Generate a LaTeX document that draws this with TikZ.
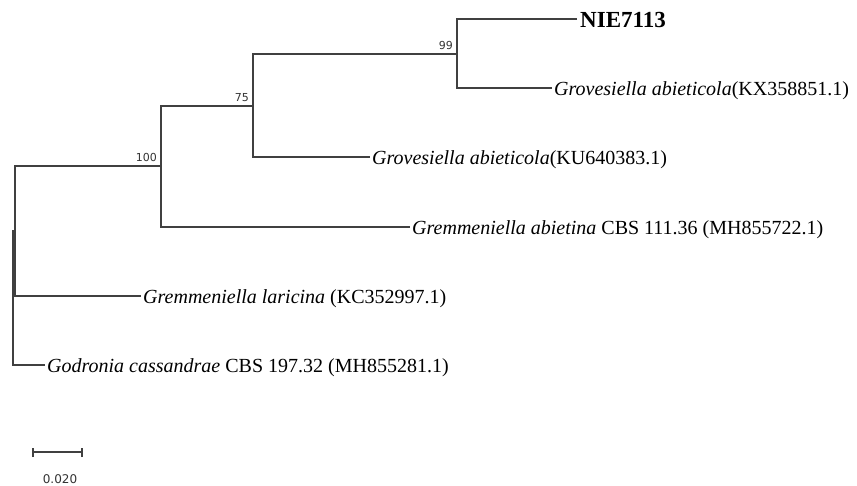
\documentclass[tikz,border=0pt]{standalone}
\usepackage{fontspec}
\setmainfont{Liberation Serif}
\newfontfamily\supfont{DejaVu Sans}
\begin{document}
\begin{tikzpicture}[x=1pt,y=-1pt,
  br/.style={draw=black!75,line width=1.1pt},
  leaf/.style={anchor=base west,inner sep=0pt,xshift=2pt,yshift=-7pt,font=\fontsize{20}{22}\selectfont},
  sup/.style={anchor=base east,inner sep=0pt,xshift=-4pt,yshift=5pt,font=\supfont\fontsize{11}{12}\selectfont,text=black!80}]
\useasboundingbox (0,0) rectangle (857,485);
% internal nodes
\coordinate (R) at (13,298);
\coordinate (B) at (15,231);
\coordinate (C) at (161,166);
\coordinate (D) at (253,106);
\coordinate (E) at (457,54);
% leaves
\coordinate (l1) at (577,19);
\coordinate (l2) at (552,88);
\coordinate (l3) at (370,157);
\coordinate (l4) at (410,227);
\coordinate (l5) at (141,296);
\coordinate (l6) at (45,365);
% branches
\draw[br] (l1) -| (E) |- (l2);
\draw[br] (E) -| (D) |- (l3);
\draw[br] (D) -| (C) |- (l4);
\draw[br] (C) -| (B) |- (l5);
\draw[br] (B) -| (R) |- (l6);
% labels
\node[leaf,font=\fontsize{23}{25}\selectfont\bfseries,xshift=1pt,yshift=-1pt] (t1) at (l1) {NIE7113};
\node[leaf] (t2) at (l2) {\textit{Grovesiella abieticola}(KX358851.1)};
\node[leaf] (t3) at (l3) {\textit{Grovesiella abieticola}(KU640383.1)};
\node[leaf] (t4) at (l4) {\textit{Gremmeniella abietina} CBS 111.36 (MH855722.1)};
\node[leaf] (t5) at (l5) {\textit{Gremmeniella laricina} (KC352997.1)};
\node[leaf] (t6) at (l6) {\textit{Godronia cassandrae} CBS 197.32 (MH855281.1)};
\node[sup] (s99) at (E) {99};
\node[sup] (s75) at (D) {75};
\node[sup] (s100) at (C) {100};
% scale bar
\coordinate (sa) at (33,452);
\coordinate (sb) at (82,452);
\draw[br] (sa) -- (sb);
\draw[br] ([yshift=-5pt]sa) -- ([yshift=4pt]sa);
\draw[br] ([yshift=-5pt]sb) -- ([yshift=4pt]sb);
\node[anchor=base,inner sep=0pt,font=\supfont\fontsize{12}{13}\selectfont,text=black!80] (sl) at (60,483) {0.020};
\end{tikzpicture}
\end{document}
